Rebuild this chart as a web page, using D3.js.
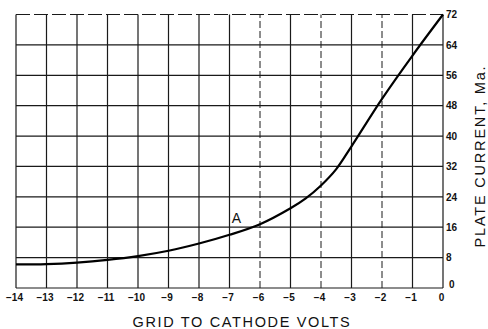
<!DOCTYPE html>
<html>
<head>
<meta charset="utf-8">
<script src="https://cdn.jsdelivr.net/npm/d3@7/dist/d3.min.js"></script>
<style>
  html, body { margin: 0; padding: 0; background: #fff; }
  svg { display: block; }
  .tick text { font-family: "Liberation Sans", Arial, sans-serif; font-weight: bold; font-size: 10px; fill: #111; }
  .title { font-family: "Liberation Sans", Arial, sans-serif; font-size: 14.5px; fill: #111; }
</style>
</head>
<body>
<svg id="chart" width="488" height="329"></svg>
<script>
// Grid voltage (V) and plate current (mA) along the characteristic curve
const gridVolts = [-14, -13, -12, -11, -10, -9, -8, -7, -6, -5, -4.5, -4, -3.5, -3, -2, -1, 0];
const plateCurrent = [6.2, 6.3, 6.7, 7.4, 8.4, 9.8, 11.7, 14.0, 16.8, 21.0, 23.6, 27.0, 31.3, 37.3, 49.8, 61.2, 72];

const xTicks = [-14, -13, -12, -11, -10, -9, -8, -7, -6, -5, -4, -3, -2, -1, 0];
const yTicks = [0, 8, 16, 24, 32, 40, 48, 56, 64, 72];
const dashedVerticals = [-6, -4, -2];

const xTitle = "GRID TO CATHODE VOLTS";
const yTitle = "PLATE CURRENT, Ma.";
const pointLabel = { text: "A", volts: -7 };

const plotLeft = 16, plotRight = 443, plotTop = 14.5, plotBottom = 288;

const svg = d3.select("#chart");
const x = d3.scaleLinear().domain([-14, 0]).range([plotLeft, plotRight]);
const y = d3.scaleLinear().domain([0, 72]).range([plotBottom, plotTop]);

// grid
const grid = svg.append("g").attr("stroke", "#1a1a1a").attr("fill", "none");
grid.selectAll("line.v").data(xTicks).join("line")
  .attr("class", "v")
  .attr("x1", d => x(d)).attr("x2", d => x(d))
  .attr("y1", y(0)).attr("y2", y(72))
  .attr("stroke-width", d => dashedVerticals.includes(d) ? 1 : 1.2)
  .attr("stroke-dasharray", d => dashedVerticals.includes(d) ? "7,3" : null);
grid.selectAll("line.h").data(yTicks).join("line")
  .attr("class", "h")
  .attr("x1", x(-14)).attr("x2", x(0))
  .attr("y1", d => y(d)).attr("y2", d => y(d))
  .attr("stroke-width", 1.2)
  .attr("stroke-dasharray", d => d === 72 ? "14,4" : null);

// axes (labels only)
const xAxis = svg.append("g")
  .attr("transform", `translate(-2,${plotBottom})`)
  .call(d3.axisBottom(x).tickValues(xTicks).tickSize(0).tickPadding(6).tickFormat(d3.format("d")));
xAxis.select(".domain").remove();

const yAxis = svg.append("g")
  .attr("transform", `translate(${plotRight},0)`)
  .call(d3.axisRight(y).tickValues(yTicks).tickSize(0).tickPadding(3).tickFormat(d3.format("d")));
yAxis.select(".domain").remove();
yAxis.selectAll(".tick").filter(d => d === 0).select("text")
  .attr("x", 6).attr("dy", "-0.05em");

// characteristic curve
const line = d3.line()
  .x((d, i) => x(gridVolts[i]))
  .y(d => y(d))
  .curve(d3.curveCatmullRom.alpha(0.5));
svg.append("path")
  .datum(plateCurrent)
  .attr("d", line)
  .attr("fill", "none")
  .attr("stroke", "#000")
  .attr("stroke-width", 2.2);

// point label
const aIdx = gridVolts.indexOf(pointLabel.volts);
svg.append("text")
  .attr("x", x(pointLabel.volts) + 7)
  .attr("y", y(plateCurrent[aIdx]) - 12)
  .attr("text-anchor", "middle")
  .style("font-family", "Liberation Sans, Arial, sans-serif")
  .style("font-size", "14px")
  .attr("fill", "#111")
  .text(pointLabel.text);

// titles
svg.append("text")
  .attr("class", "title")
  .attr("x", 242).attr("y", 327)
  .attr("text-anchor", "middle")
  .style("letter-spacing", "1.65px")
  .text(xTitle);

svg.append("text")
  .attr("class", "title")
  .attr("transform", `translate(485,156) rotate(-90)`)
  .attr("text-anchor", "middle")
  .style("letter-spacing", "1.8px")
  .text(yTitle);
</script>
</body>
</html>
